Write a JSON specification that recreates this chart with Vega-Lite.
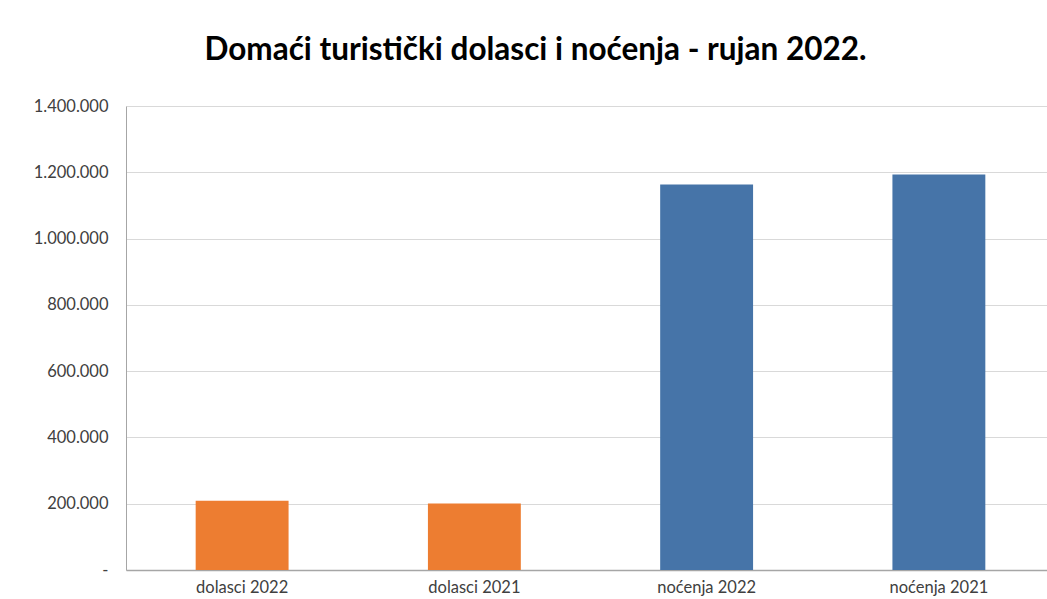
{
  "$schema": "https://vega.github.io/schema/vega-lite/v6.json",
  "autosize": {"type": "none"},
  "width": 921,
  "height": 464,
  "padding": {"left": 126, "top": 106, "right": 0, "bottom": 29},
  "background": "white",
  "config": {
    "locale": {"number": {"decimal": ",", "thousands": ".", "grouping": [3], "currency": ["", ""]}},
    "view": {"stroke": null},
    "font": "Lato"
  },
  "title": {
    "text": "Domaći turistički dolasci i noćenja - rujan 2022.",
    "font": "Lato",
    "fontSize": 31.5,
    "fontWeight": "bold",
    "color": "#000000",
    "anchor": "middle",
    "frame": "group",
    "baseline": "alphabetic",
    "offset": 7,
    "dx": -51
  },
  "data": {
    "values": [
      {"kategorija": "dolasci 2022", "vrsta": "dolasci", "vrijednost": 209000},
      {"kategorija": "dolasci 2021", "vrsta": "dolasci", "vrijednost": 200500},
      {"kategorija": "noćenja 2022", "vrsta": "noćenja", "vrijednost": 1163000},
      {"kategorija": "noćenja 2021", "vrsta": "noćenja", "vrijednost": 1193000}
    ]
  },
  "mark": {"type": "bar"},
  "encoding": {
    "x": {
      "field": "kategorija",
      "type": "nominal",
      "sort": null,
      "title": null,
      "scale": {"paddingInner": 0.6, "paddingOuter": 0.3, "range": [0, 929]},
      "axis": {
        "labelAngle": 0,
        "ticks": false,
        "labelPadding": 9,
        "labelFontSize": 16.5,
        "labelColor": "#404040",
        "labelFont": "Lato",
        "domainColor": "#a6a6a6",
        "domainWidth": 1.5
      }
    },
    "y": {
      "field": "vrijednost",
      "type": "quantitative",
      "title": null,
      "scale": {"domain": [0, 1400000], "nice": false},
      "axis": {
        "values": [0, 200000, 400000, 600000, 800000, 1000000, 1200000, 1400000],
        "labelExpr": "datum.value == 0 ? '-' : format(datum.value, ',')",
        "ticks": false,
        "labelPadding": 18,
        "labelFontSize": 16.5,
        "labelColor": "#404040",
        "labelFont": "Lato",
        "domainColor": "#a6a6a6",
        "gridColor": "#d9d9d9",
        "gridWidth": 1
      }
    },
    "color": {
      "field": "vrsta",
      "type": "nominal",
      "scale": {"domain": ["dolasci", "noćenja"], "range": ["#ED7D31", "#4674A8"]},
      "legend": null
    }
  }
}
